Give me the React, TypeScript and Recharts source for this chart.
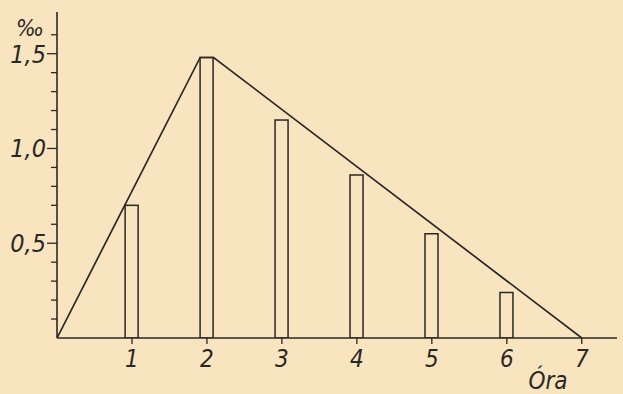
import React from "react"
import { ComposedChart, Bar, Line, XAxis, YAxis } from "recharts"

// hours after intake and the measured level (per mille)
const hours = [1, 2, 3, 4, 5, 6]
const levels = [0.7, 1.48, 1.15, 0.86, 0.55, 0.24]

// the rise/fall envelope drawn over the bars
const envelopeHours = [0, 1.91, 2.09, 7]
const envelopeLevels = [0, 1.48, 1.48, 0]

const xTicks = [1, 2, 3, 4, 5, 6, 7]
const yTicks = [0.1, 0.2, 0.3, 0.4, 0.5, 0.6, 0.7, 0.8, 0.9, 1.0, 1.1, 1.2, 1.3, 1.4, 1.5, 1.6]
const yLabels: Record<string, string> = { "0.5": "0,5", "1.0": "1,0", "1.5": "1,5" }

const barData = hours.map((h, i) => ({ h, v: levels[i] }))
const lineData = envelopeHours.map((h, i) => ({ h, v: envelopeLevels[i] }))

const ink = "#2b2724"
const paper = "#f8e5c0"
const hand = "'Liberation Sans Narrow', 'DejaVu Sans Condensed', sans-serif"
const BAR_W = 13

function YTick(props: any) {
  const { x, y, payload } = props
  const key = Number(payload.value).toFixed(1)
  const label = yLabels[key]
  return (
    <g>
      <line x1={x - (label ? 10 : 6)} x2={x} y1={y} y2={y} stroke={ink} strokeWidth={1.3} />
      {label && (
        <text x={x - 11} y={y + 9} textAnchor="end" fontFamily={hand} fontStyle="italic" fontSize={25} fill={ink}>
          {label}
        </text>
      )}
    </g>
  )
}

function XTick(props: any) {
  const { x, y, payload } = props
  return (
    <g>
      <line x1={x} x2={x} y1={y} y2={y + 6} stroke={ink} strokeWidth={1.3} />
      <text x={x} y={y + 29} textAnchor="middle" fontFamily={hand} fontStyle="italic" fontSize={24} fill={ink}>
        {payload.value}
      </text>
    </g>
  )
}

// outlined column of fixed width, centred on the library's x position
function Column(props: any) {
  const { x, y, width, height } = props
  const cx = x + width / 2
  return (
    <rect x={cx - BAR_W / 2} y={y} width={BAR_W} height={height} fill="none" stroke={ink} strokeWidth={1.5} />
  )
}

export default function App() {
  return (
    <div style={{ position: "fixed", left: 0, top: 0, width: 623, height: 394, background: paper }}>
      <ComposedChart width={623} height={394} data={barData} margin={{ top: 12, right: 6, bottom: 0, left: 0 }}>
        <XAxis
          type="number"
          dataKey="h"
          domain={[0, 7.47]}
          allowDataOverflow
          ticks={xTicks}
          height={56}
          tickSize={0}
          tickMargin={0}
          tick={<XTick />}
          axisLine={{ stroke: ink, strokeWidth: 1.6 }}
          tickLine={false}
          label={{
            content: () => (
              <text x={548} y={389} textAnchor="middle" fontFamily={hand} fontStyle="italic" fontSize={24} fill={ink}>
                Óra
              </text>
            ),
          }}
        />
        <YAxis
          type="number"
          domain={[0, 1.72]}
          allowDataOverflow
          ticks={yTicks}
          width={57}
          tickSize={0}
          tickMargin={0}
          tick={<YTick />}
          axisLine={{ stroke: ink, strokeWidth: 1.6 }}
          tickLine={false}
          interval={0}
          label={{
            content: () => (
              <text x={30} y={36} textAnchor="middle" fontFamily={hand} fontStyle="italic" fontSize={23} fill={ink}>
                ‰
              </text>
            ),
          }}
        />
        <Bar dataKey="v" barSize={BAR_W} shape={<Column />} isAnimationActive={false} />
        <Line
          data={lineData}
          dataKey="v"
          type="linear"
          stroke={ink}
          strokeWidth={1.7}
          dot={false}
          activeDot={false}
          isAnimationActive={false}
        />
      </ComposedChart>
    </div>
  )
}
